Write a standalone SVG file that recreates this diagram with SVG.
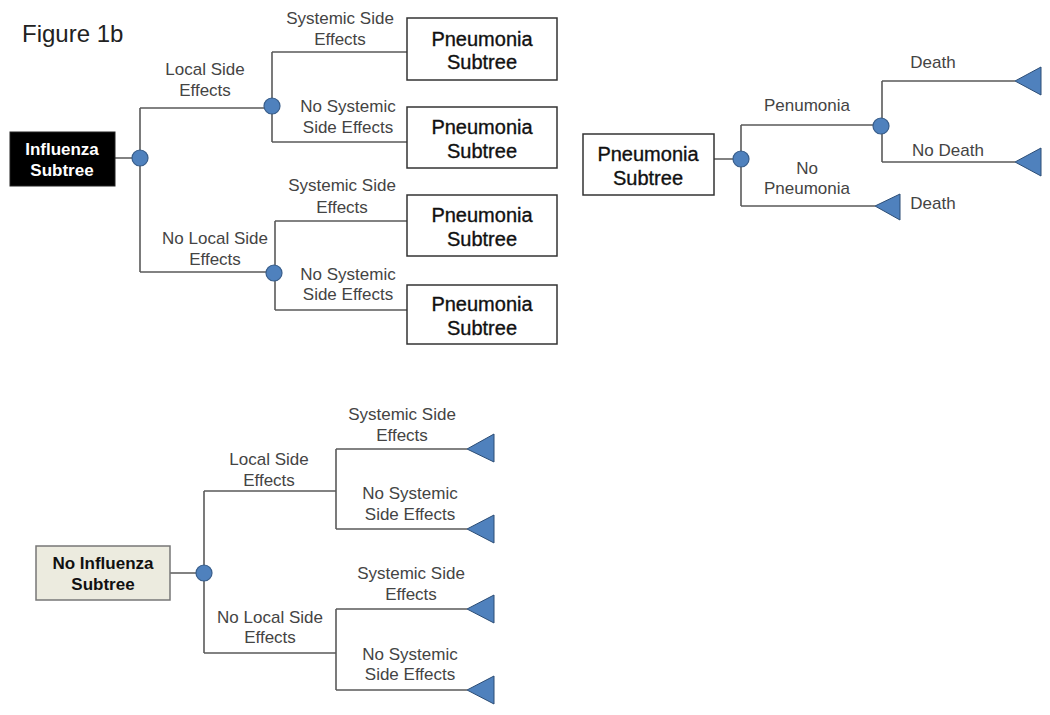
<svg xmlns="http://www.w3.org/2000/svg" width="1050" height="715" viewBox="0 0 1050 715">
<style>
.bg{fill:#ffffff}
.ln{stroke:#5a5a5a;stroke-width:1.6;fill:none}
.ch{fill:#4f81bd;stroke:#385d8a;stroke-width:1.2}
.tr{fill:#4f81bd;stroke:#2c4d75;stroke-width:1}
.lbl{font-family:"Liberation Sans",Arial,sans-serif;font-size:17px;fill:#444444;text-anchor:middle}
.bx{fill:#ffffff;stroke:#333333;stroke-width:1.5}
.bt{font-family:"Liberation Sans",Arial,sans-serif;font-size:20px;fill:#111111;stroke:#111111;stroke-width:0.35;text-anchor:middle}
.bt17{font-family:"Liberation Sans",Arial,sans-serif;font-size:17px;font-weight:bold;text-anchor:middle}
</style>
<rect class="bg" x="0" y="0" width="1050" height="715"/>
<text x="22" y="42" style="font-family:'Liberation Sans',Arial,sans-serif;font-size:24px;fill:#222">Figure 1b</text>

<g id="connectors">
  <path class="ln" d="M115,158 H140 M140,108 V272 M140,108 H272 M140,272 H274"/>
  <path class="ln" d="M272,52 V142 M272,52 H407 M272,142 H407"/>
  <path class="ln" d="M275,221 V310 M275,221 H407 M275,310 H407"/>
  <path class="ln" d="M714,159 H741 M741,125 V206 M741,125 H882 M741,206 H875"/>
  <path class="ln" d="M882,81 V162 M882,81 H1015 M882,162 H1015"/>
  <path class="ln" d="M170,573 H204 M204,491 V653 M204,491 H336 M204,653 H336"/>
  <path class="ln" d="M336,449 V529 M336,449 H467 M336,529 H467"/>
  <path class="ln" d="M336,609 V690 M336,609 H467 M336,690 H467"/>
</g>

<g id="influenza">
  <rect x="10" y="132" width="105" height="54" fill="#000000" stroke="#222" stroke-width="1"/>
  <text class="bt17" x="62" y="155" fill="#ffffff">Influenza</text>
  <text class="bt17" x="62" y="176" fill="#ffffff">Subtree</text>
</g>
<g id="chance1"><circle class="ch" cx="140" cy="158" r="8"/></g>
<g id="chance2"><circle class="ch" cx="272" cy="106" r="8"/></g>
<g id="chance3"><circle class="ch" cx="274" cy="273" r="8"/></g>

<g id="labels-top">
  <text class="lbl" x="205" y="75">Local Side</text>
  <text class="lbl" x="205" y="96">Effects</text>
  <text class="lbl" x="340" y="24">Systemic Side</text>
  <text class="lbl" x="340" y="45">Effects</text>
  <text class="lbl" x="348" y="112">No Systemic</text>
  <text class="lbl" x="348" y="133">Side Effects</text>
  <text class="lbl" x="342" y="191">Systemic Side</text>
  <text class="lbl" x="342" y="213">Effects</text>
  <text class="lbl" x="215" y="244">No Local Side</text>
  <text class="lbl" x="215" y="265">Effects</text>
  <text class="lbl" x="348" y="280">No Systemic</text>
  <text class="lbl" x="348" y="300">Side Effects</text>
</g>

<g id="pneu1">
  <rect class="bx" x="407" y="18" width="150" height="62"/>
  <text class="bt" x="482" y="46">Pneumonia</text>
  <text class="bt" x="482" y="69">Subtree</text>
</g>
<g id="pneu2">
  <rect class="bx" x="407" y="107" width="150" height="61"/>
  <text class="bt" x="482" y="134">Pneumonia</text>
  <text class="bt" x="482" y="158">Subtree</text>
</g>
<g id="pneu3">
  <rect class="bx" x="407" y="195" width="150" height="61"/>
  <text class="bt" x="482" y="222">Pneumonia</text>
  <text class="bt" x="482" y="246">Subtree</text>
</g>
<g id="pneu4">
  <rect class="bx" x="407" y="285" width="150" height="59"/>
  <text class="bt" x="482" y="311">Pneumonia</text>
  <text class="bt" x="482" y="335">Subtree</text>
</g>

<g id="pneuR">
  <rect class="bx" x="583" y="134" width="131" height="61"/>
  <text class="bt" x="648" y="161">Pneumonia</text>
  <text class="bt" x="648" y="185">Subtree</text>
</g>
<g id="chanceR1"><circle class="ch" cx="741" cy="159" r="8"/></g>
<g id="chanceR2"><circle class="ch" cx="881" cy="126" r="8"/></g>
<g id="termR1"><polygon class="tr" points="1015,81 1041,67 1041,95"/></g>
<g id="termR2"><polygon class="tr" points="1015,162 1041,148 1041,176"/></g>
<g id="termR3"><polygon class="tr" points="875,206 900,194 900,220"/></g>
<g id="labels-right">
  <text class="lbl" x="933" y="68">Death</text>
  <text class="lbl" x="807" y="111">Penumonia</text>
  <text class="lbl" x="948" y="156">No Death</text>
  <text class="lbl" x="807" y="174">No</text>
  <text class="lbl" x="807" y="194">Pneumonia</text>
  <text class="lbl" x="933" y="209">Death</text>
</g>

<g id="noinfluenza">
  <rect x="36" y="546" width="134" height="54" fill="#ecebdf" stroke="#777777" stroke-width="1.5"/>
  <text class="bt17" x="103" y="569" fill="#111">No Influenza</text>
  <text class="bt17" x="103" y="590" fill="#111">Subtree</text>
</g>
<g id="chanceB"><circle class="ch" cx="204" cy="573" r="8"/></g>
<g id="termB1"><polygon class="tr" points="467,449 494,434 494,462"/></g>
<g id="termB2"><polygon class="tr" points="467,529 494,515 494,543"/></g>
<g id="termB3"><polygon class="tr" points="467,609 494,595 494,623"/></g>
<g id="termB4"><polygon class="tr" points="467,690 494,676 494,704"/></g>
<g id="labels-bottom">
  <text class="lbl" x="402" y="420">Systemic Side</text>
  <text class="lbl" x="402" y="441">Effects</text>
  <text class="lbl" x="269" y="465">Local Side</text>
  <text class="lbl" x="269" y="486">Effects</text>
  <text class="lbl" x="410" y="499">No Systemic</text>
  <text class="lbl" x="410" y="520">Side Effects</text>
  <text class="lbl" x="411" y="579">Systemic Side</text>
  <text class="lbl" x="411" y="600">Effects</text>
  <text class="lbl" x="270" y="623">No Local Side</text>
  <text class="lbl" x="270" y="643">Effects</text>
  <text class="lbl" x="410" y="660">No Systemic</text>
  <text class="lbl" x="410" y="680">Side Effects</text>
</g>
</svg>
